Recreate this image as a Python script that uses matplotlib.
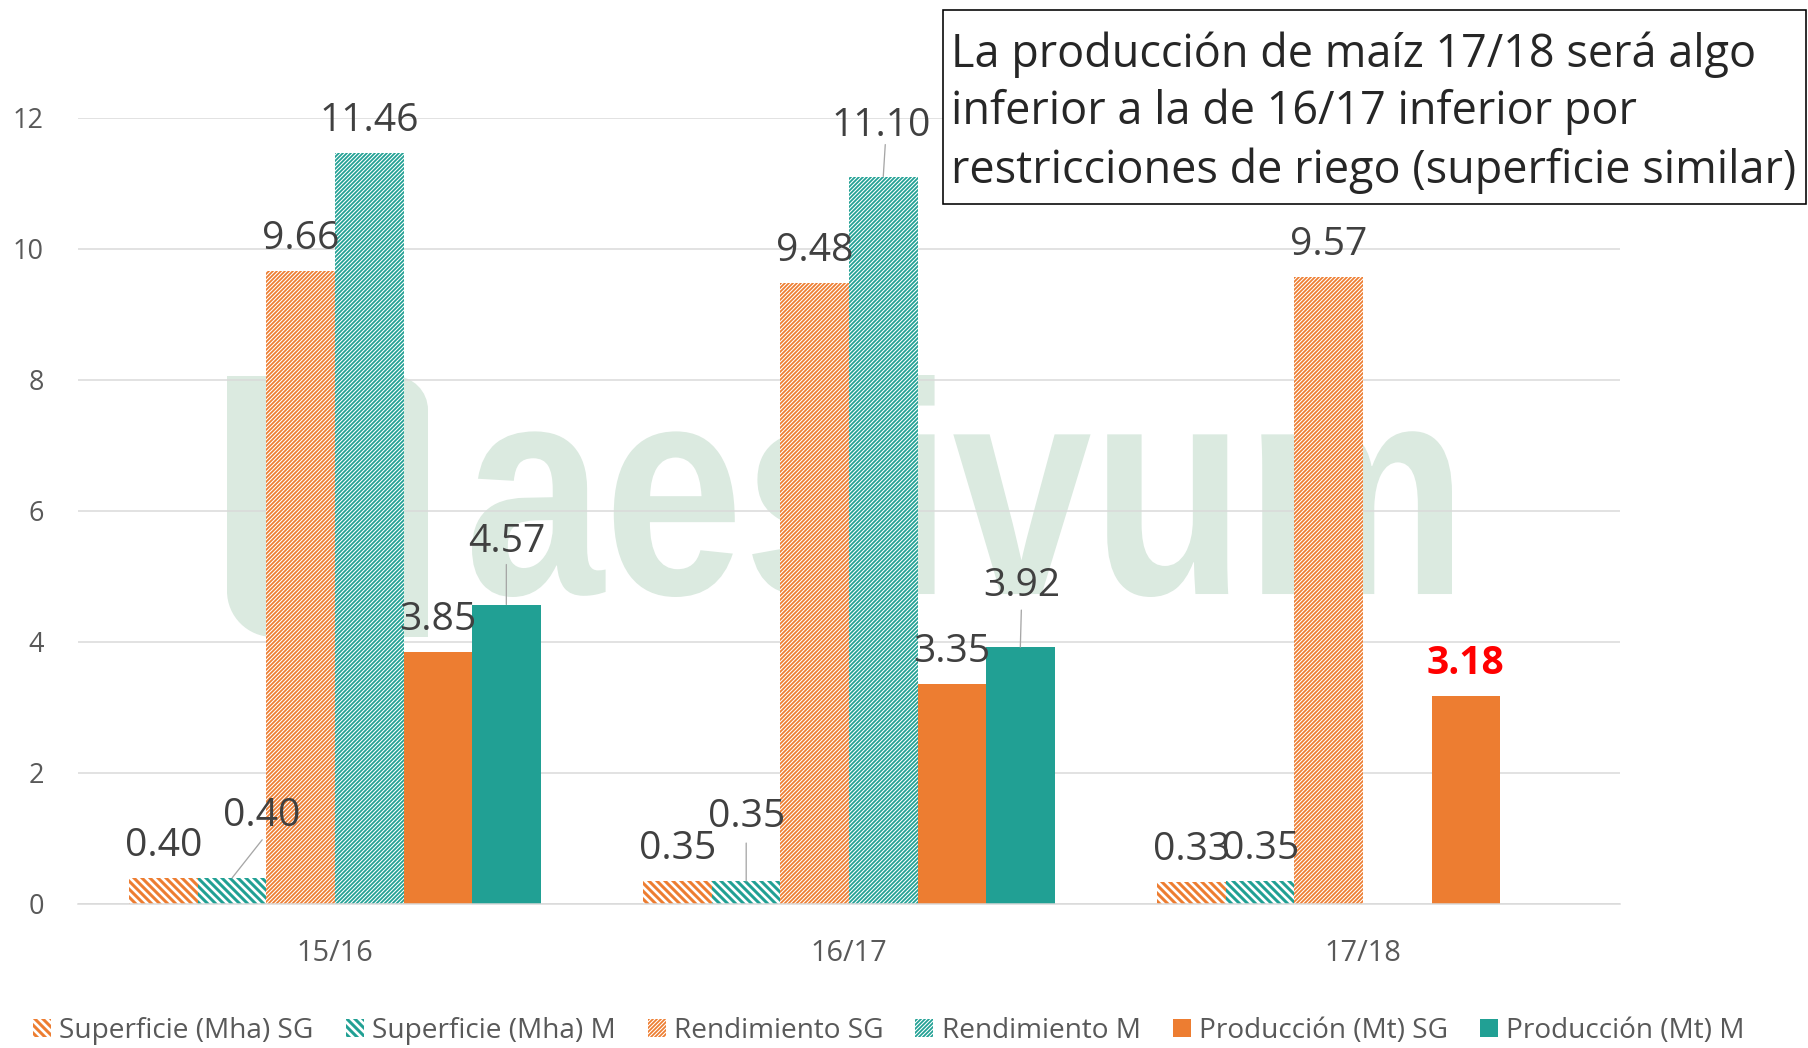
import numpy as np
import matplotlib
matplotlib.use('Agg')
import matplotlib.pyplot as plt
from matplotlib.patches import Rectangle, PathPatch
from matplotlib.path import Path
from matplotlib.textpath import TextPath
from matplotlib.font_manager import FontProperties
from matplotlib.transforms import Affine2D, IdentityTransform

# ---------------- data ----------------
categories = ['15/16', '16/17', '17/18']
sup_sg = [0.40, 0.35, 0.33]
sup_m = [0.40, 0.35, 0.35]
rend_sg = [9.66, 9.48, 9.57]
rend_m = [11.46, 11.10, np.nan]
prod_sg = [3.85, 3.35, 3.18]
prod_m = [4.57, 3.92, np.nan]
series_names = ['Superficie (Mha) SG', 'Superficie (Mha) M', 'Rendimiento SG',
                'Rendimiento M', 'Producción (Mt) SG', 'Producción (Mt) M']
y_ticks = [0, 2, 4, 6, 8, 10, 12]
title_lines = ['La producción de maíz 17/18 será algo',
               'inferior a la de 16/17 inferior por',
               'restricciones de riego (superficie similar)']
watermark = 'aesivum'

# ---------------- style ----------------
DPI = 72
W, H = 1808, 1048


def pt(px):
    return px * 72 / DPI


ORANGE = '#ED7D31'
TEAL = '#21A094'
WM = '#dbeae0'
LABEL = '#404040'
TICK = '#595959'
GRID = '#D9D9D9'

plt.rcParams['font.family'] = ['Open Sans', 'DejaVu Sans']

series = [sup_sg, sup_m, rend_sg, rend_m, prod_sg, prod_m]
styles = [
    dict(color=ORANGE, hatch='\\\\\\', hlw=pt(3.0)),
    dict(color=TEAL, hatch='\\\\\\', hlw=pt(3.0)),
    dict(color=ORANGE, hatch='//////', hlw=pt(1.75)),
    dict(color=TEAL, hatch='//////', hlw=pt(1.75)),
    dict(color=ORANGE, hatch=None, hlw=None),
    dict(color=TEAL, hatch=None, hlw=None),
]
# label offsets (pixels) for labels moved by hand in the original, and leader ends
DEFAULT_OFF = (0, 32)
label_off = {(1, 0): (29, 62), (5, 0): (0, 63), (1, 1): (0, 64),
             (3, 1): (-2, 51), (5, 1): (1, 61)}
leader_end = {(1, 0): (30, 38), (5, 0): (0, 40), (1, 1): (0, 38),
              (3, 1): (2, 32), (5, 1): (1, 37)}
special = {(4, 2): dict(color='#FF0000', fontweight='bold')}


def with_hatch_lw(artist, lw):
    orig = artist.draw

    def draw(renderer, *a, **k):
        with plt.rc_context({'hatch.linewidth': lw}):
            return orig(renderer, *a, **k)
    artist.draw = draw
    if hasattr(artist, 'set_hatch_linewidth'):
        artist.set_hatch_linewidth(lw)


fig = plt.figure(figsize=(W / DPI, H / DPI), dpi=DPI)
fig.patch.set_facecolor('white')
ax = fig.add_axes([78 / W, 1 - 904 / H, (1620 - 78) / W, (904 - 117.6) / H])
ax.patch.set_visible(False)

# ---------------- watermark (behind everything) ----------------
x0, x1, yt, yb = 227, 428, H - 376, H - 637
r1, r2, kk = 34, 46, 0.5523
verts = [(x0, yt), (x1 - r1, yt),
         (x1 - r1 + kk * r1, yt), (x1, yt - r1 + kk * r1), (x1, yt - r1),
         (x1, yb), (x0 + r2, yb),
         (x0 + r2 - kk * r2, yb), (x0, yb + r2 - kk * r2), (x0, yb + r2),
         (x0, yt), (x0, yt)]
codes = [Path.MOVETO, Path.LINETO,
         Path.CURVE4, Path.CURVE4, Path.CURVE4,
         Path.LINETO, Path.LINETO,
         Path.CURVE4, Path.CURVE4, Path.CURVE4,
         Path.LINETO, Path.CLOSEPOLY]
fig.patches.append(PathPatch(Path(verts, codes), transform=IdentityTransform(),
                             facecolor=WM, edgecolor='none', zorder=-5))
tp = TextPath((0, 0), watermark, size=100,
              prop=FontProperties(family=['Liberation Sans', 'DejaVu Sans'], weight='bold'))
ext = tp.get_extents()
sx = (1452 - 472) / ext.width
sy = (597 - 375) / ext.height
tr = Affine2D().translate(-ext.x0, -ext.y0).scale(sx, sy).translate(472, H - 597)
fig.patches.append(PathPatch(tp, transform=tr, facecolor=WM, edgecolor='none', zorder=-5))

# ---------------- bars ----------------
x = np.arange(len(categories))
n = len(series)
width = 0.8 / n
for i, (vals, st) in enumerate(zip(series, styles)):
    pos = x + (i - (n - 1) / 2) * width
    if st['hatch']:
        bars = ax.bar(pos, vals, width, facecolor='white', edgecolor=st['color'],
                      hatch=st['hatch'], linewidth=0, label=series_names[i], zorder=2)
        for b in bars:
            b.set_antialiased(False)
            with_hatch_lw(b, st['hlw'])
    else:
        bars = ax.bar(pos, vals, width, color=st['color'], linewidth=0,
                      label=series_names[i], zorder=2)
    for j, v in enumerate(vals):
        if np.isnan(v):
            continue
        dx, dy = label_off.get((i, j), DEFAULT_OFF)
        kw = dict(color=LABEL)
        kw.update(special.get((i, j), {}))
        ax.annotate(f'{v:.2f}', xy=(pos[j], v), xytext=(dx, dy), textcoords='offset pixels',
                    ha='center', va='center', fontsize=pt(39), zorder=4,
                    annotation_clip=False, **kw)
        if (i, j) in leader_end:
            ex, ey = leader_end[(i, j)]
            ax.annotate('', xy=(pos[j], v), xytext=(ex, ey), textcoords='offset pixels',
                        arrowprops=dict(arrowstyle='-', color='#A6A6A6', lw=pt(1.3),
                                        shrinkA=0, shrinkB=0), zorder=3,
                        annotation_clip=False)

ax.set_xlim(-0.5, len(categories) - 0.5)
ax.set_ylim(0, 12)
ax.set_yticks(y_ticks)
ax.set_yticklabels([str(t) for t in y_ticks])
ax.set_xticks(x)
ax.set_xticklabels(categories)
ax.tick_params(axis='y', length=0, pad=pt(34), labelsize=pt(27), labelcolor=TICK)
ax.tick_params(axis='x', length=0, pad=pt(35), labelsize=pt(29), labelcolor=TICK)
ax.set_axisbelow(True)
ax.yaxis.grid(True, color=GRID, linewidth=pt(1.5))
for s in ['left', 'right', 'top']:
    ax.spines[s].set_visible(False)
ax.spines['bottom'].set_color(GRID)
ax.spines['bottom'].set_linewidth(pt(1.5))

# ---------------- legend ----------------
handles, labels = ax.get_legend_handles_labels()
leg = fig.legend(handles, labels, loc='center left', bbox_to_anchor=(33 / W, 1 - 1031 / H),
                 ncol=6, frameon=False, fontsize=pt(28), handlelength=0.64, handleheight=0.64,
                 handletextpad=0.29, columnspacing=1.15, borderpad=0, borderaxespad=0)
for t in leg.get_texts():
    t.set_color(TICK)
for h, st in zip(leg.legend_handles, styles):
    if st['hatch']:
        h.set_antialiased(False)
        with_hatch_lw(h, st['hlw'])

# ---------------- title box ----------------
fig.patches.append(Rectangle((943 / W, 1 - 204 / H), (1806 - 943) / W, (204 - 10) / H,
                             transform=fig.transFigure, facecolor='white',
                             edgecolor='black', linewidth=pt(1.6), zorder=5))
for k, line in enumerate(title_lines):
    yc = [55, 112, 171][k]
    fig.text(951 / W, 1 - yc / H, line, fontsize=pt(45), color='#262626',
             ha='left', va='center', zorder=6)

fig.savefig('out.png', dpi=DPI, facecolor='white')
